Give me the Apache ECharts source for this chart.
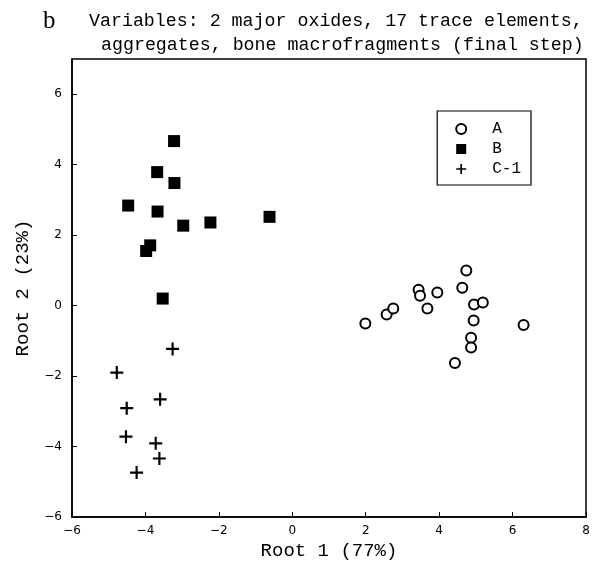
<!DOCTYPE html>
<html>
<head>
<meta charset="utf-8">
<script src="https://cdn.jsdelivr.net/npm/echarts@6/dist/echarts.min.js"></script>
<style>html,body{margin:0;padding:0;background:#fff;}#c{width:603px;height:575px;}</style>
</head>
<body>
<div id="c"></div>
<script>
// Group A (open circles): [Root 1, Root 2]
const groupA = [
  [1.99, -0.51], [2.57, -0.25], [2.75, -0.08], [3.44, 0.45], [3.48, 0.28],
  [3.68, -0.08], [3.95, 0.37], [4.63, 0.51], [4.74, 1.00], [4.95, 0.03],
  [5.19, 0.09], [4.94, -0.42], [4.87, -0.91], [4.87, -1.19], [4.43, -1.63],
  [6.30, -0.55]
];
// Group B (filled squares)
const groupB = [
  [-3.22, 4.67], [-3.68, 3.79], [-3.21, 3.48], [-4.47, 2.84], [-3.67, 2.67],
  [-2.97, 2.27], [-2.23, 2.36], [-0.62, 2.52], [-3.87, 1.71], [-3.98, 1.55],
  [-3.53, 0.20]
];
// Group C-1 (plus signs)
const groupC1 = [
  [-3.26, -1.23], [-4.78, -1.90], [-3.60, -2.66], [-4.51, -2.91],
  [-4.53, -3.72], [-3.72, -3.91], [-3.62, -4.34], [-4.24, -4.74]
];
const seriesNames = ['A', 'B', 'C-1'];
const xTicks = [-6, -4, -2, 0, 2, 4, 6, 8];
const yTicks = [-6, -4, -2, 0, 2, 4, 6];
const titleLine1 = 'Variables: 2 major oxides, 17 trace elements,';
const titleLine2 = 'aggregates, bone macrofragments (final step)';
const panelLetter = 'b';
const xName = 'Root 1 (77%)';
const yName = 'Root 2 (23%)';

const plusPath = 'path://M-1,-6 H1 V-1 H6 V1 H1 V6 H-1 V1 H-6 V-1 H-1 Z';
const mono = 'Liberation Mono, Courier New, monospace';
const tickFont = 'DejaVu Sans, sans-serif';

const chart = echarts.init(document.getElementById('c'), null, {renderer: 'canvas'});
chart.setOption({
  animation: false,
  backgroundColor: '#fff',
  title: [
    {text: panelLetter, left: 38, top: 4, textStyle: {fontFamily: 'Liberation Serif, serif', fontSize: 25, fontWeight: 'normal', color: '#000'}},
    {text: titleLine1, left: 84, top: 7, textStyle: {fontFamily: mono, fontSize: 18.3, fontWeight: 'normal', color: '#000'}},
    {text: titleLine2, left: 96, top: 31, textStyle: {fontFamily: mono, fontSize: 18.3, fontWeight: 'normal', color: '#000'}}
  ],
  grid: {left: 72, right: 17, top: 59, bottom: 58, show: true, borderColor: '#000', borderWidth: 1.5, backgroundColor: 'transparent'},
  legend: {
    orient: 'vertical', right: 72, top: 111,
    data: [
      {name: seriesNames[0], icon: 'circle', itemStyle: {color: '#fff', borderColor: '#000', borderWidth: 2}},
      {name: seriesNames[1], icon: 'rect'},
      {name: seriesNames[2], icon: plusPath}
    ],
    borderColor: '#000', borderWidth: 1.2, borderRadius: 0,
    padding: [10, 10, 8, 18], itemGap: 4, itemWidth: 10, itemHeight: 10,
    textStyle: {fontFamily: mono, fontSize: 16, color: '#000', padding: [0, 0, 0, 21]}
  },
  xAxis: {
    type: 'value', min: -6, max: 8, interval: 2,
    name: xName, nameLocation: 'middle', nameGap: 24,
    nameTextStyle: {fontFamily: mono, fontSize: 19, color: '#000'},
    axisLine: {show: true, onZero: false, lineStyle: {color: '#000', width: 1.5}},
    axisTick: {show: true, inside: true, length: 5, lineStyle: {color: '#000'}},
    axisLabel: {fontFamily: tickFont, fontSize: 12, color: '#000', margin: 8,
      formatter: v => xTicks.includes(v) ? String(v).replace('-', '\u2212') : ''},
    splitLine: {show: false}
  },
  yAxis: {
    type: 'value', min: -6, max: 7, interval: 2,
    name: yName, nameLocation: 'middle', nameGap: 40, nameRotate: 90,
    nameTextStyle: {fontFamily: mono, fontSize: 19, color: '#000'},
    axisLine: {show: true, onZero: false, lineStyle: {color: '#000', width: 1.5}},
    axisTick: {show: true, inside: true, length: 5, lineStyle: {color: '#000'}},
    axisLabel: {fontFamily: tickFont, fontSize: 12, color: '#000', margin: 10, showMaxLabel: false,
      formatter: v => yTicks.includes(v) ? String(v).replace('-', '\u2212') : ''},
    splitLine: {show: false}
  },
  series: [
    {name: seriesNames[0], type: 'scatter', data: groupA, symbol: 'circle', symbolSize: 10,
      itemStyle: {color: '#fff', borderColor: '#000', borderWidth: 2, opacity: 1}},
    {name: seriesNames[1], type: 'scatter', data: groupB, symbol: 'rect', symbolSize: 12,
      itemStyle: {color: '#000', opacity: 1}},
    {name: seriesNames[2], type: 'scatter', data: groupC1, symbol: plusPath, symbolSize: 13,
      itemStyle: {color: '#000', opacity: 1}}
  ]
});
</script>
</body>
</html>
